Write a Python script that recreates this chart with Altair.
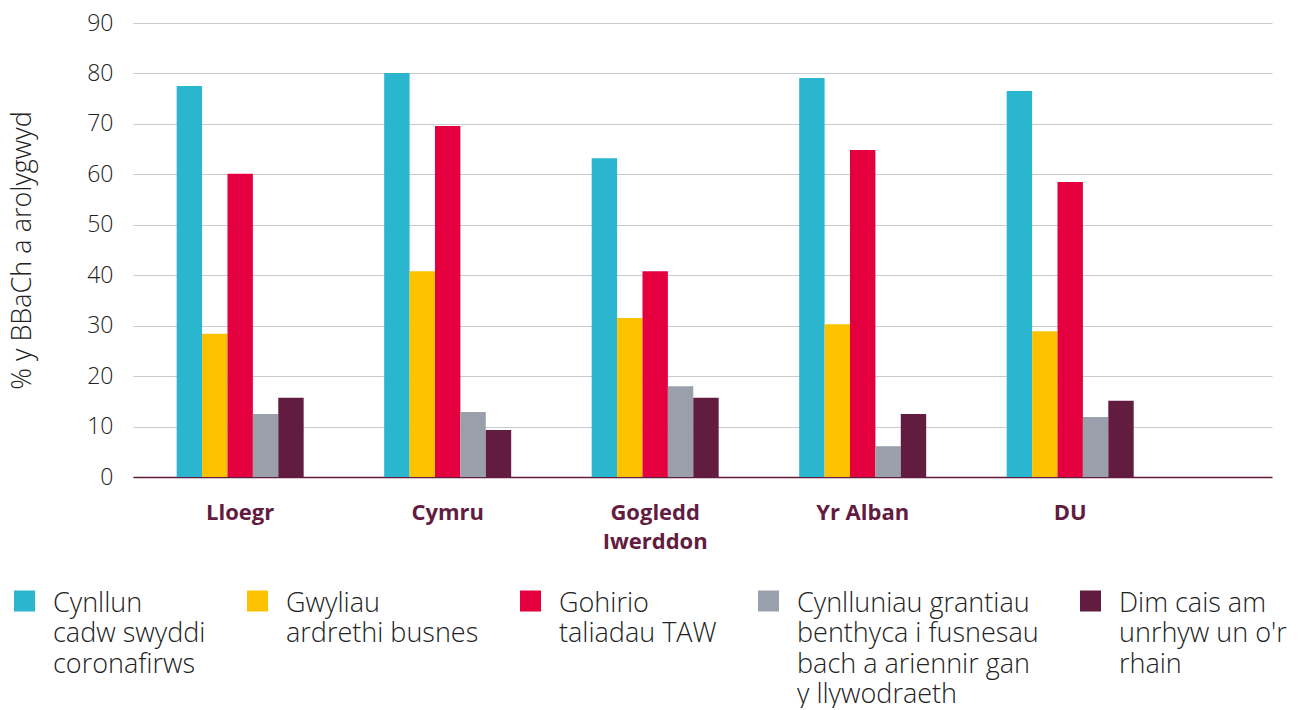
import json
import altair as alt
import pandas as pd

regions = ["Lloegr", "Cymru", "Gogledd Iwerddon", "Yr Alban", "DU"]
region_lines = [["Lloegr"], ["Cymru"], ["Gogledd", "Iwerddon"], ["Yr Alban"], ["DU"]]

series = [
    "Cynllun cadw swyddi coronafirws",
    "Gwyliau ardrethi busnes",
    "Gohirio taliadau TAW",
    "Cynlluniau grantiau benthyca i fusnesau bach a ariennir gan y llywodraeth",
    "Dim cais am unrhyw un o'r rhain",
]
series_lines = [
    ["Cynllun", "cadw swyddi", "coronafirws"],
    ["Gwyliau", "ardrethi busnes"],
    ["Gohirio", "taliadau TAW"],
    ["Cynlluniau grantiau", "benthyca i fusnesau", "bach a ariennir gan", "y llywodraeth"],
    ["Dim cais am", "unrhyw un o'r", "rhain"],
]
colors = ["#29b6ce", "#fcc200", "#e4003f", "#9aa0ab", "#621c3f"]

v_cadw = [77.5, 80.1, 63.2, 79.1, 76.5]
v_ardrethi = [28.4, 40.8, 31.5, 30.3, 28.9]
v_taw = [60.1, 69.6, 40.8, 64.8, 58.5]
v_grant = [12.5, 12.9, 18.0, 6.1, 11.9]
v_dim = [15.7, 9.3, 15.7, 12.5, 15.1]

y_ticks = [0, 10, 20, 30, 40, 50, 60, 70, 80, 90]

rows = []
for s, vals in zip(series, [v_cadw, v_ardrethi, v_taw, v_grant, v_dim]):
    for r, v in zip(regions, vals):
        rows.append({"region": r, "series": s, "value": v})
df = pd.DataFrame(rows)


def lines_expr(names, lines, pad_to=None):
    expr = "datum.label"
    for name, ls in reversed(list(zip(names, lines))):
        ls = list(ls)
        if pad_to:
            ls = ls + [""] * (pad_to - len(ls))
        expr = f"datum.label == {json.dumps(name)} ? {json.dumps(ls)} : ({expr})"
    return expr


FONT = "Open Sans"
MAROON = "#621c3f"
TEXT = "#222222"

chart = alt.Chart(df).mark_bar().encode(
    x=alt.X(
        "region:N",
        sort=regions,
        scale=alt.Scale(paddingInner=0.388, paddingOuter=0.4385, align=0.24),
        axis=alt.Axis(
            title=None,
            labelAngle=0,
            labelExpr=lines_expr(regions, region_lines),
            labelFont=FONT,
            labelFontSize=22,
            labelFontWeight="bold",
            labelColor=MAROON,
            labelPadding=25,
            labelLineHeight=29,
            labelBaseline="top",
            ticks=False,
            domainColor=MAROON,
            domainWidth=1.5,
            grid=False,
        ),
    ),
    xOffset=alt.XOffset("series:N", sort=series, scale=alt.Scale(paddingInner=0, paddingOuter=0)),
    y=alt.Y(
        "value:Q",
        scale=alt.Scale(domain=[0, 90], nice=False),
        axis=alt.Axis(
            title="% y BBaCh a arolygwyd",
            titleFont=FONT,
            titleFontSize=27,
            titleFontWeight=300,
            titleColor=TEXT,
            titlePadding=50,
            values=y_ticks,
            labelFont=FONT,
            labelFontSize=23,
            labelFontWeight=300,
            labelColor=TEXT,
            labelPadding=20,
            ticks=False,
            domain=False,
            gridColor="#c6cad1",
            gridWidth=1.2,
        ),
    ),
    color=alt.Color(
        "series:N",
        sort=series,
        scale=alt.Scale(domain=series, range=colors),
        legend=alt.Legend(
            title=None,
            orient="none",
            legendX=-122,
            legendY=554,
            direction="horizontal",
            columns=5,
            columnPadding=38,
            padding=0,
            symbolType="M-1,0H1V2H-1Z",
            symbolSize=441,
            symbolStrokeWidth=0,
            symbolOpacity=1,
            labelExpr=lines_expr(series, series_lines, pad_to=4),
            labelFont=FONT,
            labelFontSize=27,
            labelFontWeight=300,
            labelColor=TEXT,
            labelOffset=15,
            labelLimit=400,
            labelBaseline="top",
        ),
    ),
).properties(
    width=1139,
    height=454,
    autosize=alt.AutoSizeParams(type="none"),
    padding={"left": 125, "top": 15, "right": 28, "bottom": 231},
).configure(
    style={"guide-label": {"lineHeight": 30.5}}
).configure_view(stroke=None)

chart.save("out.html", embed_options={"renderer": "svg", "actions": False})
